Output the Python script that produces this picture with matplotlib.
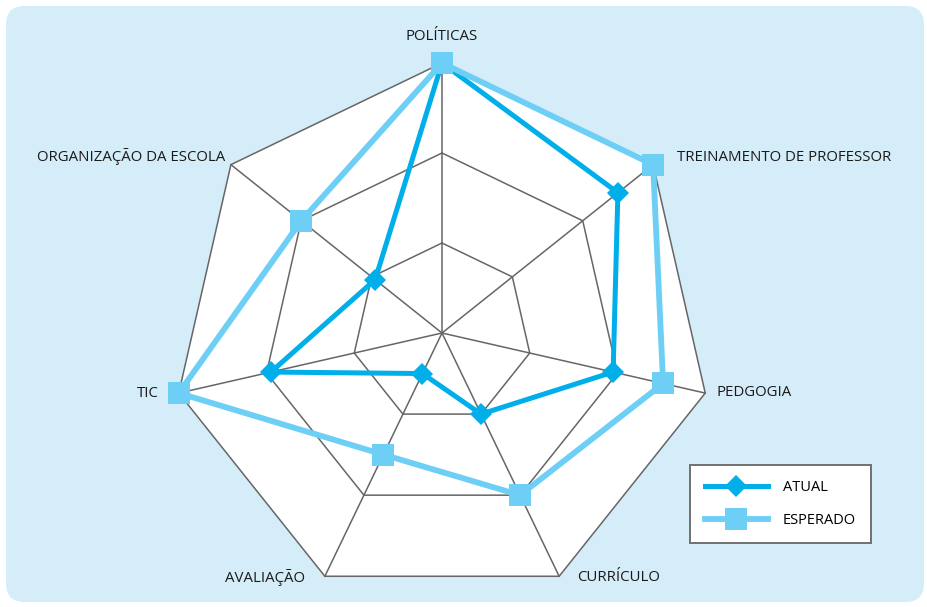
import numpy as np
import matplotlib
matplotlib.use("Agg")
import matplotlib.pyplot as plt
from matplotlib.patches import FancyBboxPatch, Polygon

categories = ["POLÍTICAS", "TREINAMENTO DE PROFESSOR", "PEDGOGIA", "CURRÍCULO",
              "AVALIAÇÃO", "TIC", "ORGANIZAÇÃO DA ESCOLA"]
atual = [3, 2.5, 1.95, 1, 0.5, 1.95, 0.95]
esperado = [3, 3, 2.52, 2, 1.5, 3, 2]
levels = [1, 2, 3]
series_names = ["ATUAL", "ESPERADO"]

BG = "#d5ecf9"
C_ATUAL = "#00aeea"
C_ESP = "#6dcff6"
GRID = "#666666"

plt.rcParams['font.family'] = ['Open Sans', 'DejaVu Sans']

W, H = 928, 607
fig = plt.figure(figsize=(W / 100, H / 100), dpi=100)
fig.patch.set_facecolor("white")
bg = FancyBboxPatch((6 / W, 5 / H), 918 / W, 596 / H,
                    boxstyle="round,pad=0,rounding_size=0.02",
                    transform=fig.transFigure, facecolor=BG, edgecolor="none",
                    mutation_aspect=W / H, zorder=-10)
fig.patches.append(bg)

ax = fig.add_axes([0, 0, 1, 1])
ax.set_facecolor("none")
scale = 90.0  # px per unit
cx, cy = 442, 333
ax.set_xlim(-cx / scale, (W - cx) / scale)
ax.set_ylim(-(H - cy) / scale, cy / scale)
ax.axis("off")

n = len(categories)
ang = np.pi / 2 - np.arange(n) * 2 * np.pi / n
ux, uy = np.cos(ang), np.sin(ang)
rmax = max(levels)

# white plot area
ax.add_patch(Polygon(np.column_stack([ux * rmax, uy * rmax]), closed=True,
                     facecolor="white", edgecolor="none", zorder=1))
# grid rings
for lv in levels:
    xs = np.append(ux * lv, ux[0] * lv)
    ys = np.append(uy * lv, uy[0] * lv)
    ax.plot(xs, ys, color=GRID, lw=1.1, zorder=2)
# spokes
for i in range(n):
    ax.plot([0, ux[i] * rmax], [0, uy[i] * rmax], color=GRID, lw=1.1, zorder=2)


def series(vals, color, marker, ms, lw, z, label):
    v = np.array(vals, dtype=float)
    xs = np.append(ux * v, ux[0] * v[0])
    ys = np.append(uy * v, uy[0] * v[0])
    ax.plot(xs, ys, color=color, lw=lw, marker=marker, markersize=ms,
            markeredgewidth=0, zorder=z, label=label, solid_joinstyle="miter")


series(atual, C_ATUAL, "D", 11.5, 3.6, 4, series_names[0])
series(esperado, C_ESP, "s", 16.5, 4.2, 5, series_names[1])

# labels
fs = 10.8
lab = [
    (0, 0.0, 27, "center"),
    (1, 24, 7, "left"),
    (2, 11, 1, "left"),
    (3, 18, -1, "left"),
    (4, -20, -1, "right"),
    (5, -20, 0, "right"),
    (6, -6, 8, "right"),
]
for i, dx, dy, ha in lab:
    x = ux[i] * rmax + dx / scale
    y = uy[i] * rmax + dy / scale
    ax.text(x, y, categories[i], ha=ha, va="center", fontsize=fs, color="#1a1a1a",
            zorder=6)

h, l = ax.get_legend_handles_labels()
leg = ax.legend(h, l, loc="upper left", bbox_to_anchor=(690 / W, 1 - 465 / H),
                bbox_transform=fig.transFigure, frameon=True, fancybox=False,
                edgecolor="#707070", facecolor="white", fontsize=10.5,
                handlelength=4.3, handletextpad=1.05, borderpad=1.02,
                labelspacing=1.25, borderaxespad=0)
leg.get_frame().set_linewidth(1.4)
leg.get_frame().set_alpha(1)
leg.set_zorder(10)

fig.savefig("out.png", dpi=100, facecolor="white")
